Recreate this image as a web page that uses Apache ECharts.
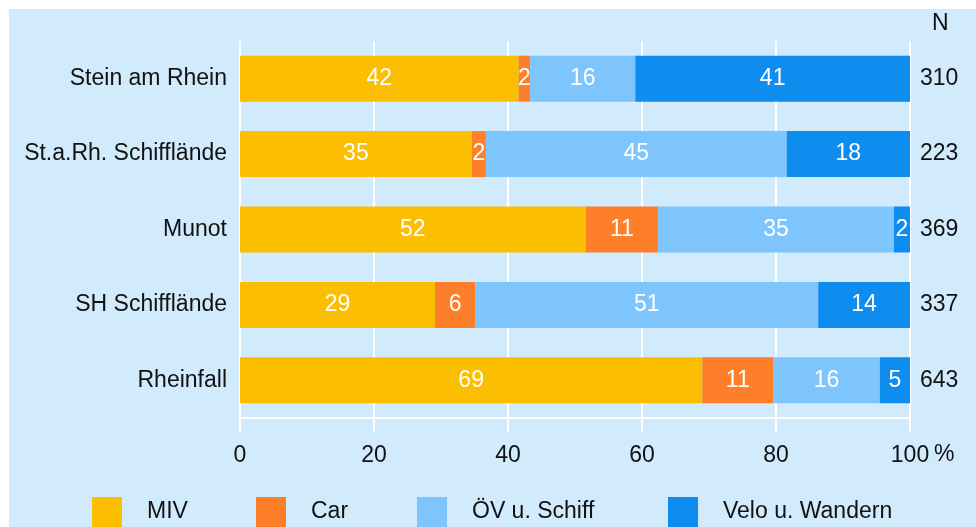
<!DOCTYPE html>
<html>
<head>
<meta charset="utf-8">
<script src="https://cdn.jsdelivr.net/npm/echarts@6/dist/echarts.min.js"></script>
<style>
  html, body { margin: 0; padding: 0; background: #fff; }
  #chart { width: 976px; height: 527px; }
</style>
</head>
<body>
<div id="chart"></div>
<script>
// Orte (von oben nach unten)
var places = ['Stein am Rhein', 'St.a.Rh. Schiffl\u00e4nde', 'Munot', 'SH Schiffl\u00e4nde', 'Rheinfall'];
// Anzahl Befragte
var nValues = ['310', '223', '369', '337', '643'];

// Anteile in %
var miv = [41.6, 34.6, 51.6, 29.1, 69.0];
var car = [1.7, 2.1, 10.8, 6.0, 10.6];
var oev = [15.7, 44.9, 35.2, 51.2, 15.9];
var velo = [41.0, 18.4, 2.4, 13.7, 4.5];

var xTicks = [0, 20, 40, 60, 80, 100];

var seriesNames = ['MIV', 'Car', '\u00d6V u. Schiff', 'Velo u. Wandern'];
var seriesColors = ['#fbbe00', '#fd7f2a', '#7fc5fd', '#0e8dee'];
var seriesData = [miv, car, oev, velo];

var FONT = "'Liberation Sans', Arial, Helvetica, sans-serif";
var BG = '#d1eafc';

var chart = echarts.init(document.getElementById('chart'), null, { renderer: 'canvas' });

var series = seriesNames.map(function (name, i) {
  return {
    name: name,
    type: 'bar',
    stack: 'total',
    barWidth: 46,
    itemStyle: { color: seriesColors[i] },
    label: {
      show: true,
      position: 'inside',
      color: '#fff',
      fontFamily: FONT,
      fontSize: 23,
      formatter: function (p) { return Math.round(p.value); }
    },
    emphasis: { disabled: true },
    data: seriesData[i]
  };
});

var legendLeft = [92, 256, 417, 668];
var legends = seriesNames.map(function (name, i) {
  return {
    data: [name],
    left: legendLeft[i],
    top: 497,
    padding: 0,
    icon: 'rect',
    itemWidth: 30,
    itemHeight: 30,
    selectedMode: false,
    textStyle: { fontFamily: FONT, fontSize: 23, color: '#111', padding: [0, 0, 0, 20] }
  };
});

var option = {
  backgroundColor: '#fff',
  animation: false,
  graphic: [
    { type: 'rect', left: 9, top: 9, z: -10, shape: { width: 967, height: 518 }, style: { fill: BG } },
    { type: 'text', left: 932, top: 12, style: { text: 'N', font: '23px ' + FONT, fill: '#111' } },
    { type: 'text', left: 934, top: 443, style: { text: '%', font: '23px ' + FONT, fill: '#111' } }
  ],
  legend: legends,
  grid: { left: 240, right: 66, top: 41, bottom: 109, containLabel: false },
  xAxis: {
    type: 'value',
    min: 0,
    max: 100,
    interval: 20,
    axisLine: { show: true, lineStyle: { color: '#fff', width: 2 } },
    axisTick: { show: true, length: 14, lineStyle: { color: '#fff', width: 2 } },
    splitLine: { show: true, lineStyle: { color: '#fff', width: 2 } },
    axisLabel: {
      margin: 26,
      fontFamily: FONT,
      fontSize: 23,
      color: '#111',
      formatter: function (v) { return xTicks.indexOf(v) >= 0 ? String(v) : ''; }
    }
  },
  yAxis: [
    {
      type: 'category',
      data: places,
      inverse: true,
      axisLine: { show: false },
      axisTick: { show: false },
      axisLabel: { margin: 13, fontFamily: FONT, fontSize: 23, color: '#111' }
    },
    {
      type: 'category',
      data: nValues,
      inverse: true,
      position: 'right',
      axisLine: { show: false },
      axisTick: { show: false },
      axisLabel: { margin: 10, fontFamily: FONT, fontSize: 23, color: '#111' }
    }
  ],
  series: series
};

chart.setOption(option);
</script>
</body>
</html>
